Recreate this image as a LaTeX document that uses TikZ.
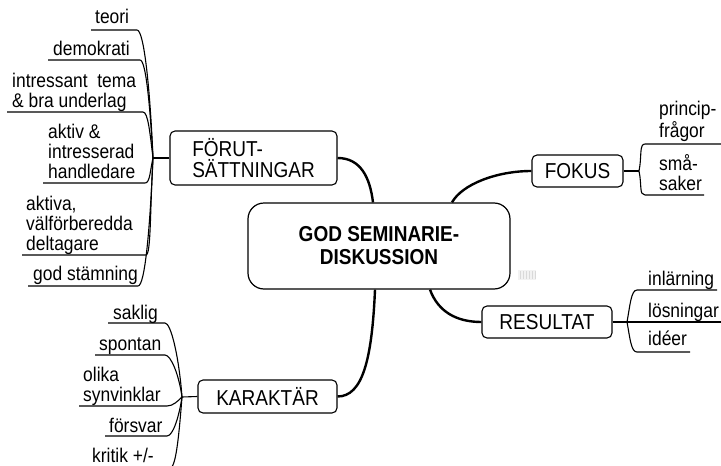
\documentclass[tikz,border=0pt]{standalone}
\usepackage{fontspec}
\setmainfont[FakeStretch=0.88]{Liberation Sans}
\usetikzlibrary{calc}
\begin{document}
\begin{tikzpicture}[x=1pt,y=-1pt,
  topic/.style={draw, line width=1.1pt, rounded corners=5pt, inner sep=0pt,
    font=\fontsize{21.6}{21}\selectfont},
  centre/.style={draw, line width=1.2pt, rounded corners=16pt, inner sep=0pt,
    align=center, font=\fontsize{21.6}{23}\selectfont\bfseries},
  leaf/.style={inner sep=0pt, anchor=base west, align=left,
    font=\fontsize{19.8}{20}\selectfont},
  trunk/.style={line width=2.4pt},
  twig/.style={line width=1.1pt},
]
\useasboundingbox (0,0) rectangle (721,466);

% central topic and main branches
\node[centre, minimum width=262pt, minimum height=86pt] (core) at (379,246)
  {GOD SEMINARIE-\\DISKUSSION};
\node[topic, align=left, inner xsep=22pt, minimum width=167pt, minimum height=54pt]
  (forut) at (253.5,158) {FÖRUT-\\SÄTTNINGAR};
\node[topic, minimum width=91pt, minimum height=32pt] (fokus) at (577.5,171) {FOKUS};
\node[topic, minimum width=130pt, minimum height=32pt] (resultat) at (547,322) {RESULTAT};
\node[topic, minimum width=139pt, minimum height=33pt] (karaktar) at (267.5,396.5) {KARAKTÄR};

\coordinate (cF) at ($(core.north)+(-6,0)$);
\coordinate (cK) at ($(core.north)+(73,0)$);
\coordinate (cR) at ($(core.south)+(51,0)$);
\coordinate (cA) at ($(core.south)+(-4,0)$);

\draw[trunk] (forut.east) .. controls +(23,0) and +(-3,-25) .. (cF);
\draw[trunk] (fokus.west) .. controls +(-35,0) and +(10,-18) .. (cK);
\draw[trunk] (cR) .. controls +(8,22) and +(-25,0) .. (resultat.west);
\draw[trunk] (cA) .. controls +(-3,70) and +(25,0) .. (karaktar.east);

% hubs where the sub-branches fan out
\coordinate (fhub) at (153,158);
\coordinate (khub) at (182,397);
\coordinate (ohub) at (639,171);
\coordinate (rhub) at (627,322);
\draw[twig] (forut.west) -- (fhub);
\draw[twig] (karaktar.west) -- (khub);
\draw[twig] (fokus.east) -- (ohub);
\draw[twig] (resultat.east) -- (rhub);

% FÖRUTSÄTTNINGAR (multi-line leaves are placed by their last baseline)
\node[leaf] (f1) at (95,23) {teori};
\node[leaf] (f2) at (53,55) {demokrati};
\node[leaf] (f3) at (12,107) {intressant\ \ tema\\\& bra underlag};
\node[leaf] (f4) at (48,178) {aktiv \&\\intresserad\\handledare};
\node[leaf] (f5) at (26,250) {aktiva,\\välförberedda\\deltagare};
\node[leaf] (f6) at (33,280) {god stämning};
\coordinate (f1a) at (91,30);  \coordinate (f1b) at (137,30);
\coordinate (f2a) at (48,60);  \coordinate (f2b) at (140,60);
\coordinate (f3a) at (7,112);  \coordinate (f3b) at (143,112);
\coordinate (f4a) at (43,183); \coordinate (f4b) at (145,183);
\coordinate (f5a) at (22,255); \coordinate (f5b) at (146,255);
\coordinate (f6a) at (28,286); \coordinate (f6b) at (138,286);
\draw[twig] (f1a) -- (f1b) .. controls +(7,0) and +(-3,-70) .. (fhub);
\draw[twig] (f2a) -- (f2b) .. controls +(6,0) and +(-3,-52) .. (fhub);
\draw[twig] (f3a) -- (f3b) .. controls +(5,0) and +(-3,-25) .. (fhub);
\draw[twig] (f4a) -- (f4b) .. controls +(5,0) and +(-3,13) .. (fhub);
\draw[twig] (f5a) -- (f5b) .. controls +(5,0) and +(-3,52) .. (fhub);
\draw[twig] (f6a) -- (f6b) .. controls +(7,0) and +(-3,70) .. (fhub);

% KARAKTÄR
\node[leaf] (k1) at (113,319) {saklig};
\node[leaf] (k2) at (99,350) {spontan};
\node[leaf] (k3) at (83,401) {olika\\synvinklar};
\node[leaf] (k4) at (109,432) {försvar};
\node[leaf] (k5) at (92,462) {kritik +/-};
\coordinate (k1a) at (108,323); \coordinate (k1b) at (165,323);
\coordinate (k2a) at (95,355);  \coordinate (k2b) at (165,355);
\coordinate (k3a) at (79,406);  \coordinate (k3b) at (167,406);
\coordinate (k4a) at (105,436); \coordinate (k4b) at (167,436);
\coordinate (k5a) at (88,468);  \coordinate (k5b) at (170,468);
\draw[twig] (k1a) -- (k1b) .. controls +(6,0) and +(-3,-40) .. (khub);
\draw[twig] (k2a) -- (k2b) .. controls +(6,0) and +(-3,-22) .. (khub);
\draw[twig] (k3a) -- (k3b) .. controls +(6,0) and +(-4,4) .. (khub);
\draw[twig] (k4a) -- (k4b) .. controls +(6,0) and +(-3,20) .. (khub);
\draw[twig] (k5a) -- (k5b) .. controls +(6,0) and +(-3,38) .. (khub);

% FOKUS
\node[leaf] (o1) at (659,137) {princip-\\frågor};
\node[leaf] (o2) at (659,190) {små-\\saker};
\coordinate (o1a) at (645,144); \coordinate (o1b) at (721,144);
\coordinate (o2a) at (645,195); \coordinate (o2b) at (704,195);
\draw[twig] (ohub) .. controls +(3,-14) and +(-6,0) .. (o1a) -- (o1b);
\draw[twig] (ohub) .. controls +(3,14) and +(-6,0) .. (o2a) -- (o2b);

% RESULTAT
\node[leaf] (r1) at (648,285) {inlärning};
\node[leaf] (r2) at (648,317) {lösningar};
\node[leaf] (r3) at (648,345) {idéer};
\coordinate (r1a) at (637,290); \coordinate (r1b) at (717,290);
\coordinate (r2b) at (721,322);
\coordinate (r3a) at (637,352); \coordinate (r3b) at (690,352);
\draw[twig] (rhub) .. controls +(3,-16) and +(-6,0) .. (r1a) -- (r1b);
\draw[twig] (rhub) -- (r2b);
\draw[twig] (rhub) .. controls +(3,16) and +(-6,0) .. (r3a) -- (r3b);

% small note marker beside the central topic
\fill[gray!10] (518,270) rectangle (536,280);
\foreach \i in {520,523,...,535} \draw[gray!30, line width=0.6pt] (\i,271) -- (\i,279);
\end{tikzpicture}
\end{document}
